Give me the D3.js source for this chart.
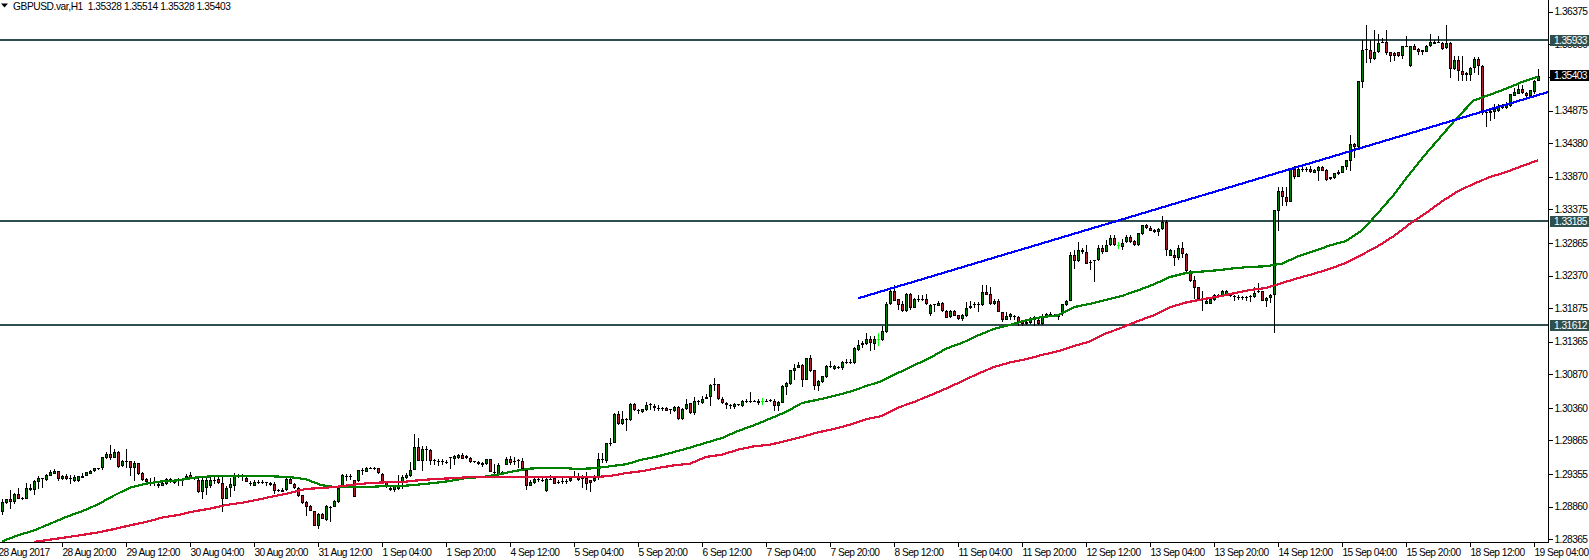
<!DOCTYPE html>
<html lang="en">
<head>
<meta charset="utf-8">
<title>GBPUSD.var,H1</title>
<style>
  html, body { margin: 0; padding: 0; background: #fff; overflow: hidden; }
  svg { display: block; }
  text { font-family: "Liberation Sans", sans-serif; font-size: 10.2px; letter-spacing: -0.55px; fill: #000; }
</style>
<script src="https://d3js.org/d3.v7.min.js"></script>
</head>
<body>
<svg id="chart" width="1589" height="560"></svg>
<script>
// hourly candles, in pips above 1.2800
const opens = [78,91,98,93,106,98,98,115,111,124,128,126,133,135,140,128,132,128,125,125,
132,133,136,140,143,144,160,166,160,169,148,155,155,145,152,137,128,123,122,121,
118,120,128,123,125,127,127,134,128,127,108,115,117,126,128,122,98,115,118,133,
131,130,121,118,122,123,122,122,121,110,109,111,128,121,115,103,93,87,80,56,
75,66,85,86,93,116,132,132,126,125,141,139,144,144,144,136,124,115,111,113,
122,130,132,142,176,156,172,172,156,155,155,153,160,158,160,164,160,160,155,154,
153,151,158,138,136,137,150,158,155,156,156,142,118,122,127,126,110,127,130,123,
124,124,125,132,132,128,129,126,125,129,157,156,182,183,227,211,218,217,242,232,
230,233,240,239,235,235,236,233,231,238,219,234,243,228,245,243,250,252,271,272,
249,244,240,238,241,239,246,246,246,247,246,246,247,247,239,244,268,272,292,297,
301,279,311,293,269,275,283,299,295,297,297,305,305,304,324,332,333,340,333,340,
339,351,393,414,401,393,383,409,388,401,401,401,378,392,391,396,383,374,383,377,
371,375,387,392,392,392,412,409,393,398,381,370,374,375,374,368,363,365,370,369,
363,373,376,376,375,378,392,399,468,459,476,472,456,459,460,479,473,483,494,483,
480,488,496,489,483,500,513,509,506,503,507,518,467,468,463,478,470,444,430,419,
402,394,394,400,407,406,408,406,405,404,404,404,405,404,412,413,399,403,408,535,
566,556,549,599,587,598,598,599,593,596,602,597,586,585,591,593,602,611,636,632,
731,781,780,765,776,791,792,776,775,776,770,785,755,786,781,779,777,785,789,790,
790,782,790,750,764,748,745,741,752,765,755,685,684,685,686,692,692,694,710,713,
720,714,710,715,733];
const highs = [98,98,111,107,115,101,122,121,127,132,130,135,142,143,140,134,136,134,134,133,
137,139,141,145,145,162,169,179,174,170,157,173,156,155,153,138,130,129,131,122,
124,130,129,127,129,129,135,139,131,130,131,129,131,132,132,134,118,129,137,136,
135,134,125,126,127,127,124,124,124,113,114,129,131,122,116,104,94,88,80,76,
76,88,87,96,117,135,135,135,127,142,144,146,147,147,145,137,125,117,118,134,
134,137,154,196,191,178,178,173,159,159,158,157,162,164,166,167,165,161,156,155,
154,159,159,151,152,140,161,163,161,158,160,143,126,132,129,130,129,134,131,126,
129,128,132,140,137,134,138,127,134,168,168,183,190,228,231,231,221,243,243,235,
235,245,244,242,240,238,237,235,239,239,236,249,244,252,248,254,257,273,282,273,
252,245,242,244,242,248,249,260,248,249,251,249,250,249,246,270,275,294,303,306,
302,312,316,294,278,285,301,307,301,299,307,310,310,328,339,338,350,345,345,349,
361,397,417,423,402,399,411,411,403,408,408,409,393,394,398,397,384,384,384,377,
378,397,398,397,397,422,422,419,402,402,382,381,380,377,375,370,368,374,376,371,
379,380,381,379,379,394,400,473,475,488,479,483,460,461,483,483,491,498,498,488,
493,499,498,491,502,514,515,512,507,509,528,522,477,475,483,488,471,445,436,420,
414,400,402,409,409,415,415,409,408,407,406,406,407,420,425,414,404,409,537,572,
572,571,599,604,600,601,601,604,598,603,603,598,587,593,597,604,613,650,638,733,
794,817,794,809,803,798,809,777,776,777,786,800,786,789,782,780,787,803,794,801,
791,818,791,771,771,771,746,753,769,769,756,686,688,698,698,698,700,713,721,726,
726,715,719,734,751];
const lows = [73,90,82,90,97,96,97,110,103,113,115,125,132,135,125,127,126,121,123,124,
129,132,135,139,142,142,158,157,160,145,146,145,132,125,134,125,121,117,118,114,
117,119,122,120,118,118,126,129,126,107,97,103,114,121,121,78,97,100,110,130,
125,123,117,117,120,121,117,117,106,108,108,110,120,113,101,90,72,79,56,52,
67,64,63,85,91,115,125,126,100,124,134,138,143,141,136,121,114,110,109,112,
113,128,131,141,155,140,156,150,149,148,150,151,143,149,159,158,158,153,153,150,
147,150,138,129,135,134,149,150,149,144,142,111,117,121,124,124,109,126,120,120,
120,120,124,130,125,114,111,108,124,127,152,153,178,182,210,210,201,216,232,226,
229,232,233,232,231,231,231,227,230,218,218,233,226,225,241,242,249,239,262,248,
242,235,235,235,239,238,244,243,245,241,241,245,245,231,231,243,255,271,278,296,
268,279,291,263,262,274,282,296,294,295,294,302,302,302,323,327,332,322,324,330,
338,350,392,398,385,381,382,384,387,397,398,392,376,381,390,382,372,373,375,369,
368,374,386,388,381,391,407,392,392,381,366,369,369,369,361,361,362,364,361,362,
362,372,374,374,370,376,391,398,447,458,470,454,446,427,459,470,472,482,482,477,
476,487,487,482,482,499,508,504,502,497,506,467,466,451,461,464,443,427,402,401,
383,393,393,399,405,404,407,404,399,400,400,398,397,403,410,398,389,395,349,505,
542,542,548,583,586,594,594,593,592,580,595,580,582,584,590,592,597,595,616,631,
722,760,760,764,775,790,772,761,762,769,766,784,754,779,772,772,776,784,788,790,
780,781,737,749,733,732,733,733,745,742,681,663,672,674,685,690,690,693,709,712,
712,707,709,713,732];
const closes = [93,97,93,105,98,99,115,111,125,130,129,134,139,140,128,133,128,129,131,132,
130,138,140,144,144,161,166,160,169,147,155,156,145,152,135,126,123,124,123,117,
122,128,123,124,126,128,133,130,129,108,126,126,126,127,122,97,115,120,132,134,
132,124,122,124,124,124,123,119,110,111,112,128,121,115,102,92,86,80,57,75,
68,87,86,94,115,134,133,133,101,141,142,144,145,145,137,123,116,111,117,118,
131,134,141,176,156,173,173,155,157,156,156,154,161,163,164,159,163,154,156,151,
150,158,139,139,150,138,158,153,156,157,143,118,124,128,128,127,128,128,121,124,
125,125,130,133,126,129,121,122,130,158,158,182,183,227,211,219,219,242,233,233,
234,241,242,236,236,236,232,234,238,219,235,242,228,246,246,249,253,270,272,249,
243,241,241,242,242,247,247,247,247,243,246,247,248,239,245,269,274,293,297,301,
279,311,292,269,277,284,299,300,299,298,305,306,306,327,332,335,340,335,340,340,
352,393,414,399,392,383,409,387,402,402,402,393,392,393,396,383,373,383,376,371,
377,388,391,393,393,412,408,393,398,382,370,376,378,376,365,363,366,373,374,363,
375,379,379,377,376,393,399,468,459,476,472,455,457,460,479,473,484,494,483,483,
487,496,488,483,501,513,509,505,503,508,518,475,476,463,479,470,444,428,418,402,
403,399,401,408,408,414,414,407,406,405,405,405,406,411,413,399,403,408,536,566,
556,549,598,587,599,599,599,594,597,601,596,582,583,592,594,603,612,636,632,732,
780,780,766,777,790,792,775,770,770,770,785,786,785,780,776,776,786,791,792,791,
781,790,751,764,747,742,741,752,765,755,683,683,686,690,693,695,698,712,715,720,
714,709,718,733,740];

// moving averages, one reading every 4 bars, same pips
const fastMaStart = 0;
const fastMa = [33.5,42.6,50,60,70.4,79,89.6,103,115,121,124.5,126,130,132,132,133,132.6,132,131,127.6,118.5,115.4,116,116,117.5,
117.5,119.5,122,125,129.6,131,134.7,140,143.8,145.3,144.8,143.3,144.3,147.3,150.4,157.5,162.5,169,175.7,183,190.3,201,209.6,219.7,229.8,243.5,248.5,254,
260.7,269,277,289,300.7,311.8,326,334.6,346,
356,362,369,374,376.5,389,394,400,406,414.5,423.6,434.7,440.8,443,445,448,450,451,
455,466,474,482.7,489.3,505.5,531.8,560,592,622,650,
678,703,711.5,720.6,730.7,739];
const slowMaStart = 8;
const slowMa = [32.5,36,39.5,43,47,52,57.7,62.8,69.4,73.4,79,83,88.6,92,96.7,102,106.8,113,114.4,116.4,119.5,122,123,
123.5,126,128,129,130.6,131,131,131,131,130.6,131,131,131,132.6,137,140,144.8,148.8,151.4,161.5,165,172.6,177.7,180.2,185.8,191.9,198.9,204,
210.6,218.7,223.8,236.4,245,255,265.3,276.4,288,298,305,310,316.4,322,330,337,349,
358,368,376.5,389,396,400.8,405,410,415,418,425.6,433,
439.7,447.3,456,468.6,481.7,497,515.6,531.8,549.5,565,576.4,586.5,594,603.2,611.8];
const maStep = 4;

// trendline ends: bar index, price
const trendBars = [214, 386.5];
const trendPrices = [1.32023, 1.35155];

const levels = [1.35933, 1.33185, 1.31612];
const lastPrice = 1.35403;

const priceTicks = [1.36375,1.35880,1.35385,1.34875,1.34380,1.33870,1.33375,1.32865,1.32370,1.31875,1.31365,1.30870,1.30360,1.29865,1.29355,1.28860,1.28365];
const timeLabels = ["28 Aug 2017","28 Aug 20:00","29 Aug 12:00","30 Aug 04:00","30 Aug 20:00","31 Aug 12:00","1 Sep 04:00","1 Sep 20:00","4 Sep 12:00","5 Sep 04:00","5 Sep 20:00","6 Sep 12:00","7 Sep 04:00","7 Sep 20:00","8 Sep 12:00","11 Sep 04:00","11 Sep 20:00","12 Sep 12:00","13 Sep 04:00","13 Sep 20:00","14 Sep 12:00","15 Sep 04:00","15 Sep 20:00","18 Sep 12:00","19 Sep 04:00"];
const labelEvery = 16;
const title = "GBPUSD.var,H1  1.35328 1.35514 1.35328 1.35403";

const price = p => 1.28 + p / 10000;

const axisX = 1548, axisY = 542;
const x = d3.scaleLinear().domain([0, opens.length - 1]).range([2, 1538]);
const y = d3.scaleLinear().domain([1.28365, 1.36375]).range([539.3, 11.7]);

const svg = d3.select("#chart");
svg.append("defs").append("clipPath").attr("id", "plot")
  .append("rect").attr("width", axisX).attr("height", axisY);
const plot = svg.append("g").attr("clip-path", "url(#plot)");

// horizontal levels
plot.selectAll(".level").data(levels).join("rect")
  .attr("x", 0).attr("width", axisX).attr("height", 2)
  .attr("y", d => Math.floor(y(d)) - 1)
  .attr("fill", "#2f4f4f").attr("shape-rendering", "crispEdges");

// candles
const candles = d3.range(opens.length).map(i => ({
  i, o: price(opens[i]), h: price(highs[i]), l: price(lows[i]), c: price(closes[i])
}));
const gCandles = plot.append("g").attr("shape-rendering", "crispEdges");
const candle = gCandles.selectAll("g").data(candles).join("g");
const inkOf = d => d.o === d.c ? "#00ff00" : "#000";
candle.append("rect")
  .attr("x", d => Math.round(x(d.i))).attr("width", 1)
  .attr("y", d => Math.round(y(d.h)))
  .attr("height", d => Math.max(1, Math.round(y(d.l)) - Math.round(y(d.h))))
  .attr("fill", inkOf);
const bodyTop = d => Math.round(y(Math.max(d.o, d.c)));
const bodyH = d => Math.max(1, Math.round(y(Math.min(d.o, d.c))) - bodyTop(d));
candle.append("rect")
  .attr("x", d => Math.round(x(d.i)) - 1).attr("width", 3)
  .attr("y", bodyTop).attr("height", bodyH)
  .attr("fill", inkOf);
candle.filter(d => bodyH(d) > 2).append("rect")
  .attr("x", d => Math.round(x(d.i))).attr("width", 1)
  .attr("y", d => bodyTop(d) + 1).attr("height", d => bodyH(d) - 2)
  .attr("fill", d => d.c > d.o ? "#008000" : "#b01e30");

// moving averages
const maLine = (start) => d3.line()
  .x((d, k) => x(start + k * maStep))
  .y(d => y(price(d)));
plot.append("path").attr("d", maLine(fastMaStart)(fastMa))
  .attr("fill", "none").attr("stroke", "#008000").attr("stroke-width", 2.2).attr("shape-rendering", "crispEdges");
plot.append("path").attr("d", maLine(slowMaStart)(slowMa))
  .attr("fill", "none").attr("stroke", "#dc143c").attr("stroke-width", 2.2).attr("shape-rendering", "crispEdges");

// trendline
plot.append("path")
  .attr("d", d3.line().x(d => x(d[0])).y(d => y(d[1]))(d3.zip(trendBars, trendPrices)))
  .attr("fill", "none").attr("stroke", "#0000ff").attr("stroke-width", 2.2).attr("shape-rendering", "crispEdges");

// axes
const right = svg.append("g").attr("transform", `translate(${axisX + 0.5},0)`)
  .call(d3.axisRight(y).tickValues(priceTicks).tickFormat(d3.format(".5f")).tickSize(4).tickPadding(2));
right.select(".domain").remove();

const bottom = svg.append("g").attr("transform", `translate(0,${axisY + 0.5})`)
  .call(d3.axisBottom(x)
    .tickValues(timeLabels.map((t, k) => -1 + k * labelEvery))
    .tickFormat((d, k) => timeLabels[k]).tickSize(4).tickPadding(2));
bottom.select(".domain").remove();
bottom.selectAll("text").attr("text-anchor", "start");
svg.selectAll(".tick line").attr("stroke", "#000").attr("shape-rendering", "crispEdges");
svg.selectAll(".tick text").attr("font-family", null).attr("font-size", null);

svg.append("path").attr("d", `M${axisX + 0.5},0V${axisY + 0.5}H0`)
  .attr("fill", "none").attr("stroke", "#000").attr("shape-rendering", "crispEdges");

// price tags
const tags = levels.map(v => ({ v, fill: "#2f4f4f" })).concat([{ v: lastPrice, fill: "#000" }]);
const tag = svg.selectAll(".tag").data(tags).join("g");
tag.append("rect")
  .attr("x", axisX + 2).attr("width", 39).attr("height", 11)
  .attr("y", d => Math.floor(y(d.v)) - 5)
  .attr("fill", d => d.fill).attr("shape-rendering", "crispEdges");
tag.append("text")
  .attr("x", axisX + 6).attr("y", d => Math.floor(y(d.v)) + 4)
  .style("fill", "#fff")
  .text(d => d3.format(".5f")(d.v));

// header
svg.append("path").attr("d", "M1,3.5H8L4.5,7.5Z").attr("fill", "#000");
svg.append("text").attr("x", 13).attr("y", 9.5).attr("xml:space", "preserve")
  .style("white-space", "pre").style("letter-spacing", "-0.42px").text(title);
</script>
</body>
</html>
